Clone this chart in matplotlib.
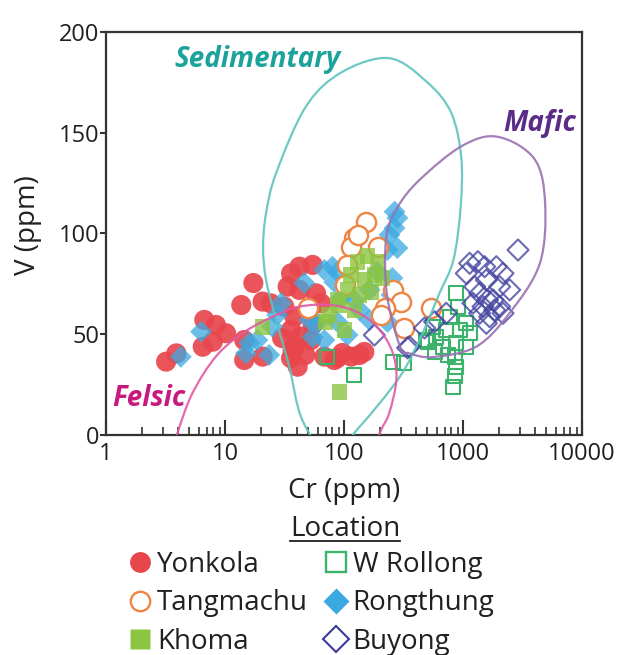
import numpy as np
import matplotlib
matplotlib.use("Agg")
import matplotlib.pyplot as plt
from matplotlib import ticker
from matplotlib.path import Path
from matplotlib.patches import PathPatch
from matplotlib.lines import Line2D

plt.rcParams["font.family"] = ["Open Sans", "DejaVu Sans"]

# --- sample data: Cr (ppm) and V (ppm) by location ---
yon_cr = [3.2, 3.9, 6.7, 8.4, 10.2, 6.5, 7.9, 13.7, 17.3, 14.5, 20.7, 35.9, 54.5, 33.6,
          58.2, 35.9, 38.3, 35.9, 40.8, 52.8, 54.5, 68.4, 83.0, 115, 14.5, 24.3, 31.5,
          64.1, 38.3, 43.5, 20.7, 37.0, 42.2, 97, 135, 148, 88, 47.3, 30.2, 42.2]
yon_v = [36.4, 40.5, 57.1, 54.6, 50.5, 43.8, 46.3, 64.5, 75.4, 37.2, 66.2, 80.2, 84.4, 73.6,
         70.3, 52.1, 43.8, 38.1, 33.9, 47.1, 54.6, 38.9, 37.2, 38.9, 47.1, 65.3, 63.7,
         65.4, 58.7, 48.8, 38.9, 42.2, 72.0, 40.7, 39.7, 41.2, 38.2, 39.7, 48.1, 83.5]

ron_cr = [4.25, 6.3, 15.0, 23.5, 27.5, 18.7, 46.4, 68.4, 59.7, 68.4, 29.6, 266, 281, 241,
          281, 266, 232, 255, 251, 88, 83, 95, 232, 107, 88, 51.2, 80, 25, 16, 122, 135,
          164, 191, 164, 54.5]
ron_v = [38.8, 51.3, 40.5, 39.7, 59.6, 47.1, 75.4, 81.9, 55.6, 47.1, 65.4, 110.8, 107.7, 99.3,
         92.8, 102.7, 91.8, 77.9, 69.5, 80.9, 75.9, 68.0, 56.1, 49.6, 56.1, 57.1, 83.5, 53.7,
         45.7, 67.0, 62.0, 72.0, 80.9, 57.0, 48.6]

tan_cr = [153, 122, 115, 192, 107, 257, 302, 219, 206, 322, 541, 101, 49.5, 130]
tan_v = [105.9, 97.6, 93.4, 93.4, 84.4, 72.0, 66.2, 62.9, 59.6, 53.0, 62.9, 74.4, 62.9, 99.3]

kho_cr = [20.6, 91.4, 130, 157, 191, 115, 149, 180, 107, 135, 170, 91, 122, 75, 70, 101, 88, 210]
kho_v = [53.6, 21.3, 85.9, 88.8, 85.9, 79.4, 76.9, 79.4, 72.0, 69.5, 71.0, 64.5, 62.0, 59.6,
         56.0, 52.1, 67.0, 77.9]

wro_cr = [823, 877, 850, 677, 877, 1066, 936, 723, 596, 490, 558, 771, 906, 877, 1066, 1137,
          322, 257, 122, 504, 577, 72.5, 742, 850]
wro_v = [24.0, 33.9, 38.9, 43.8, 45.5, 43.8, 52.1, 52.1, 48.8, 47.1, 53.7, 58.7, 63.7, 70.3,
         55.4, 50.5, 35.6, 36.4, 29.8, 46.3, 41.3, 38.7, 39.7, 29.3]

buy_cr = [2900, 2168, 1906, 1334, 1137, 1066, 1520, 1571, 2033, 1380, 1787, 2033, 1473, 1675,
          2168, 1211, 1571, 1380, 1253, 723, 355, 180, 342, 577, 475, 2466, 1845, 1610]
buy_v = [91.8, 80.2, 83.5, 86.0, 85.2, 80.2, 83.5, 76.9, 73.6, 70.3, 67.0, 63.7, 63.7, 58.7,
         60.4, 65.4, 55.4, 60.4, 73.6, 60.4, 43.8, 49.6, 43.2, 56.2, 53.1, 72.0, 62.0, 67.0]

# --- source field outlines (log10 Cr, V), traced clockwise ---
sed_logcr = [2.38, 2.70, 2.90, 2.985, 2.98, 2.92, 2.80, 2.66, 2.47, 2.13, 1.88, 1.65, 1.54,
             1.43, 1.345, 1.32, 1.345, 1.43, 1.68, 1.98]
sed_v = [187, 175, 160, 138, 113, 87, 70, 50.5, 29, 4, -10, 7.4, 34, 57, 77, 93, 110, 130, 163, 180]

maf_logcr = [3.29, 3.60, 3.69, 3.645, 3.39, 3.11, 2.75, 2.55, 2.47, 2.36, 2.355, 2.45, 2.635, 2.99]
maf_v = [148, 137, 115, 85, 60.4, 43.8, 38.7, 40.5, 44, 70, 98, 113, 126.6, 143.4]

fel_logcr = [1.90, 2.13, 2.30, 2.41, 2.44, 2.38, 2.30, 2.15, 1.8, 1.0, 0.5, 0.60, 0.726,
             0.923, 1.147, 1.40, 1.625]
fel_v = [64.5, 60.4, 52.1, 40.7, 27.3, 10.9, 1, -20, -40, -45, -20, 0.8, 20.7, 38.9, 50.5, 58.7, 63.7]

locations = ["Yonkola", "Tangmachu", "Khoma", "W Rollong", "Rongthung", "Buyong"]


def smooth_outline(log_cr, v):
    p = np.column_stack([log_cr, v]).astype(float)
    n = len(p)
    verts = [p[0]]
    codes = [Path.MOVETO]
    for i in range(n):
        p0, p1, p2, p3 = p[i - 1], p[i], p[(i + 1) % n], p[(i + 2) % n]
        verts += [p1 + (p2 - p0) / 6, p2 - (p3 - p1) / 6, p2]
        codes += [Path.CURVE4] * 3
    verts = np.array(verts)
    verts[:, 0] = 10 ** verts[:, 0]
    return Path(verts, codes)


fig = plt.figure(figsize=(6.25, 6.55), dpi=100)
ax = fig.add_axes([0.1696, 0.3359, 0.7616, 0.6153])
ax.set_xscale("log")
ax.set_xlim(1, 10000)
ax.set_ylim(0, 200)

ax.scatter(yon_cr, yon_v, s=210, marker="o", color="#e8464d", edgecolors="none", alpha=0.92, zorder=2)
ax.scatter(ron_cr, ron_v, s=125, marker="D", color="#3aa9e1", edgecolors="none", alpha=0.75, zorder=3)
ax.scatter(tan_cr, tan_v, s=190, marker="o", facecolors="white", edgecolors="#ee8543",
           linewidths=1.7, zorder=4)
ax.scatter(kho_cr, kho_v, s=125, marker="s", color="#8cc541", edgecolors="none", alpha=0.8, zorder=5)
ax.scatter(wro_cr, wro_v, s=100, marker="s", facecolors="none", edgecolors="#3bb36a",
           linewidths=1.5, zorder=6)
ax.scatter(buy_cr, buy_v, s=115, marker="D", facecolors="none", edgecolors="#4646a2",
           linewidths=1.5, alpha=0.8, zorder=7)

for lc, vv, col in [(sed_logcr, sed_v, "#5ec3bc"), (maf_logcr, maf_v, "#9a71b2"),
                    (fel_logcr, fel_v, "#e05aa6")]:
    ax.add_patch(PathPatch(smooth_outline(lc, vv), fill=False, edgecolor=col, lw=1.6,
                           alpha=0.9, zorder=8))

lab_kw = dict(fontsize=20, fontweight="bold", fontstyle="italic", ha="center", va="center", zorder=9)
ax.text(18.7, 186.5, "Sedimentary", color="#1ba39b", **lab_kw)
ax.text(4400, 154.5, "Mafic", color="#5b2c87", **lab_kw)
ax.text(2.3, 18, "Felsic", color="#c8197f", **lab_kw)

text_col = "#231f20"
for sp in ax.spines.values():
    sp.set_linewidth(1.6)
    sp.set_color("#333333")
ax.xaxis.set_major_formatter(ticker.FuncFormatter(lambda x, _: f"{x:g}"))
ax.xaxis.set_minor_formatter(ticker.NullFormatter())
ax.set_yticks([0, 50, 100, 150, 200])
ax.tick_params(axis="x", which="major", direction="in", length=11, width=1.5,
               labelsize=17, pad=5, colors="#333333", labelcolor=text_col)
ax.tick_params(axis="x", which="minor", direction="in", length=5.5, width=1.2, colors="#333333")
ax.tick_params(axis="y", which="major", direction="out", length=4, width=1.5,
               labelsize=17, pad=1, colors="#333333", labelcolor=text_col)

ax.set_xlabel("Cr (ppm)", fontsize=20, color=text_col, labelpad=8)
ax.set_ylabel("V (ppm)", fontsize=20, color=text_col)
ax.yaxis.set_label_coords(-0.135, 0.52)

title = fig.text(0.552, 0.192, "Location", fontsize=20, color=text_col, ha="center", va="center")

handles = [
    Line2D([], [], ls="none", marker="o", ms=15, mfc="#e8464d", mec="none"),
    Line2D([], [], ls="none", marker="o", ms=14, mfc="white", mec="#ee8543", mew=1.7),
    Line2D([], [], ls="none", marker="s", ms=14, mfc="#8cc541", mec="none"),
    Line2D([], [], ls="none", marker="s", ms=14, mfc="none", mec="#3bb36a", mew=1.7),
    Line2D([], [], ls="none", marker="D", ms=13, mfc="#3aa9e1", mec="none"),
    Line2D([], [], ls="none", marker="D", ms=13, mfc="none", mec="#3a3a96", mew=1.5),
]
fig.legend(handles, locations, ncol=2, loc="upper left", bbox_to_anchor=(0.207, 0.159),
           frameon=False, fontsize=20, handlelength=0.8, handletextpad=0.2,
           columnspacing=0.6, labelspacing=0.38, borderpad=0, borderaxespad=0,
           labelcolor=text_col)

fig.canvas.draw()
bb = title.get_window_extent().transformed(fig.transFigure.inverted())
fig.add_artist(Line2D([bb.x0, bb.x1], [bb.y0 + 0.004, bb.y0 + 0.004], color=text_col,
                      lw=1.3, transform=fig.transFigure))

fig.savefig("out.png", dpi=100)
